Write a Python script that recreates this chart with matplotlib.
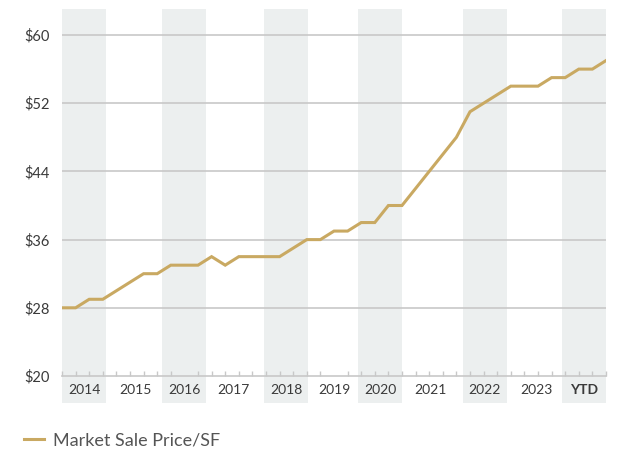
import matplotlib
matplotlib.use("Agg")
import matplotlib.pyplot as plt

# quarterly market sale price per SF, 2014 Q1 .. YTD
quarters = list(range(41))
price = [28, 28, 29, 29, 30, 31, 32, 32, 33, 33,
         33, 34, 33, 34, 34, 34, 34, 35, 36, 36,
         37, 37, 38, 38, 40, 40, 42, 44, 46, 48,
         51, 52, 53, 54, 54, 54, 55, 55, 56, 56,
         57]

year_labels = ["2014", "2015", "2016", "2017", "2018", "2019",
               "2020", "2021", "2022", "2023", "YTD"]
# where each year label sits on the quarter axis
year_pos = [1.65, 5.4, 9.0, 12.6, 16.5, 20.0, 23.4, 27.1, 31.1, 34.9, 38.4]

y_ticks = [20, 28, 36, 44, 52, 60]
y_labels = ["$" + str(v) for v in y_ticks]

gold = "#C9A962"
band = "#ECEFEF"
grid = "#C8C8C8"
text = "#3A3A3A"

plt.rcParams["font.family"] = ["Lato", "DejaVu Sans"]

fig = plt.figure(figsize=(6.18, 4.49), dpi=100)
W, H = 618, 449
left, right, top, bottom = 62, 606, 9, 376
ax = fig.add_axes([left / W, (H - bottom) / H, (right - left) / W, (bottom - top) / H])

ax.set_xlim(0, 40)
ax.set_ylim(20, 63.05)

# alternating year bands, running down behind the year labels
half = 1.62
for i, p in enumerate(year_pos):
    if i % 2 == 0:
        ax.axvspan(p - half, p + half, ymin=-0.0736, ymax=1, color=band,
                   lw=0, zorder=0, clip_on=False)

for v in y_ticks[1:]:
    ax.axhline(v, color=grid, lw=1.2, zorder=1)

ax.plot(quarters, price, color=gold, lw=2.2, zorder=3, solid_joinstyle="miter",
        label="Market Sale Price/SF")

for s in ["top", "right", "left"]:
    ax.spines[s].set_visible(False)
ax.spines["bottom"].set_color(grid)
ax.spines["bottom"].set_linewidth(1.2)
ax.spines["bottom"].set_zorder(2)

ax.set_yticks(y_ticks)
ax.set_yticklabels(y_labels)
ax.tick_params(axis="y", length=0, pad=8.5, labelsize=10.5, labelcolor=text)

ax.set_xticks(quarters, minor=True)
ax.tick_params(axis="x", which="minor", direction="in", length=3.5,
               color=grid, width=1)
ax.set_xticks(year_pos)
ax.set_xticklabels(year_labels)
ax.tick_params(axis="x", which="major", length=0, pad=6, labelsize=10,
               labelcolor=text)
ax.get_xticklabels()[-1].set_fontweight("bold")

fig.legend(loc="lower left", bbox_to_anchor=(0.012, -0.035), frameon=False,
           fontsize=13, handlelength=1.1, handletextpad=0.55,
           labelcolor="#555555")

fig.savefig("out.png", dpi=100)
